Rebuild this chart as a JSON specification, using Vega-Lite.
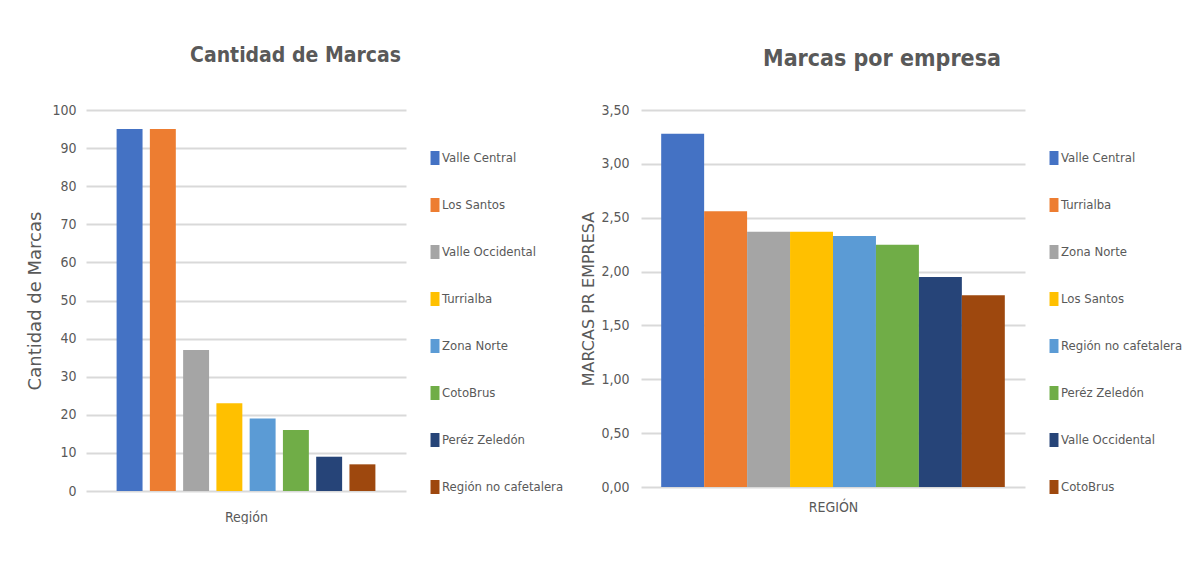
{
  "$schema": "https://vega.github.io/schema/vega-lite/v6.json",
  "background": "white",
  "padding": {"left": 26, "top": 45, "right": 0, "bottom": 0},
  "datasets": {
    "marcas": [
      {"region": "Valle Central", "marcas": 95},
      {"region": "Los Santos", "marcas": 95},
      {"region": "Valle Occidental", "marcas": 37},
      {"region": "Turrialba", "marcas": 23},
      {"region": "Zona Norte", "marcas": 19},
      {"region": "CotoBrus", "marcas": 16},
      {"region": "Peréz Zeledón", "marcas": 9},
      {"region": "Región no cafetalera", "marcas": 7}
    ],
    "empresa": [
      {"region": "Valle Central", "ratio": 3.28},
      {"region": "Turrialba", "ratio": 2.56},
      {"region": "Zona Norte", "ratio": 2.37},
      {"region": "Los Santos", "ratio": 2.37},
      {"region": "Región no cafetalera", "ratio": 2.33},
      {"region": "Peréz Zeledón", "ratio": 2.25},
      {"region": "Valle Occidental", "ratio": 1.95},
      {"region": "CotoBrus", "ratio": 1.78}
    ]
  },
  "spacing": 16,
  "hconcat": [
    {
      "data": {"name": "marcas"},
      "width": 320,
      "height": 381,
      "title": {"text": "Cantidad de Marcas", "frame": "bounds", "anchor": "middle", "fontSize": 21, "font": "DejaVu Sans Condensed, sans-serif", "fontWeight": "bold", "color": "#595959", "offset": 37},
      "mark": {"type": "bar"},
      "encoding": {
        "x": {
          "field": "region", "type": "nominal",
          "scale": {"domain": ["Valle Central", "Los Santos", "Valle Occidental", "Turrialba", "Zona Norte", "CotoBrus", "Peréz Zeledón", "Región no cafetalera"], "paddingInner": 0.22, "paddingOuter": 0.92},
          "axis": {"title": "Región", "labels": false, "ticks": false, "domain": false, "titlePadding": 19, "titleFont": "DejaVu Sans Condensed, sans-serif", "titleFontSize": 14, "titleFontWeight": "normal", "titleColor": "#595959"}
        },
        "y": {
          "field": "marcas", "type": "quantitative",
          "scale": {"domain": [0, 100], "nice": false},
          "axis": {"values": [0, 10, 20, 30, 40, 50, 60, 70, 80, 90, 100], "title": "Cantidad de Marcas", "titleFont": "DejaVu Sans", "titleFontSize": 18, "titleFontWeight": "normal", "titleColor": "#595959", "titlePadding": 7, "labelFont": "DejaVu Sans Condensed, sans-serif", "labelFontSize": 14, "labelColor": "#595959", "labelPadding": 10, "ticks": false, "domain": false, "gridColor": "#d9d9d9", "gridWidth": 2}
        },
        "color": {
          "field": "region", "type": "nominal",
          "scale": {"domain": ["Valle Central", "Los Santos", "Valle Occidental", "Turrialba", "Zona Norte", "CotoBrus", "Peréz Zeledón", "Región no cafetalera"], "range": ["#4472C4", "#ED7D31", "#A5A5A5", "#FFC000", "#5B9BD5", "#70AD47", "#264478", "#9E480E"]},
          "legend": {"title": null, "orient": "none", "legendX": 342, "legendY": 41, "padding": 0, "symbolType": "M-0.64,-1H0.64V1H-0.64Z", "symbolSize": 196, "symbolStrokeWidth": 0, "labelFont": "DejaVu Sans Condensed, sans-serif", "labelFontSize": 13, "labelColor": "#595959", "labelOffset": 0, "rowPadding": 33}
        }
      }
    },
    {
      "data": {"name": "empresa"},
      "width": 384,
      "height": 377,
      "title": {"text": "Marcas por empresa", "frame": "bounds", "anchor": "middle", "fontSize": 23, "font": "DejaVu Sans Condensed, sans-serif", "fontWeight": "bold", "color": "#595959", "offset": 32},
      "mark": {"type": "bar"},
      "encoding": {
        "x": {
          "field": "region", "type": "nominal",
          "scale": {"domain": ["Valle Central", "Turrialba", "Zona Norte", "Los Santos", "Región no cafetalera", "Peréz Zeledón", "Valle Occidental", "CotoBrus"], "paddingInner": 0, "paddingOuter": 0.47},
          "axis": {"title": "REGIÓN", "labels": false, "ticks": false, "domain": false, "titlePadding": 13, "titleFont": "DejaVu Sans Condensed, sans-serif", "titleFontSize": 14, "titleFontWeight": "normal", "titleColor": "#595959"}
        },
        "y": {
          "field": "ratio", "type": "quantitative",
          "scale": {"domain": [0, 3.5], "nice": false},
          "axis": {"values": [0, 0.5, 1, 1.5, 2, 2.5, 3, 3.5], "labelExpr": "replace(format(datum.value, '.2f'), '.', ',')", "title": "MARCAS PR EMPRESA", "titleFont": "DejaVu Sans", "titleFontSize": 16, "titleFontWeight": "normal", "titleColor": "#595959", "titlePadding": 4, "labelFont": "DejaVu Sans Condensed, sans-serif", "labelFontSize": 14, "labelColor": "#595959", "labelPadding": 12, "ticks": false, "domain": false, "gridColor": "#d9d9d9", "gridWidth": 2}
        },
        "color": {
          "field": "region", "type": "nominal",
          "scale": {"domain": ["Valle Central", "Turrialba", "Zona Norte", "Los Santos", "Región no cafetalera", "Peréz Zeledón", "Valle Occidental", "CotoBrus"], "range": ["#4472C4", "#ED7D31", "#A5A5A5", "#FFC000", "#5B9BD5", "#70AD47", "#264478", "#9E480E"]},
          "legend": {"title": null, "orient": "none", "legendX": 406, "legendY": 41, "padding": 0, "symbolType": "M-0.64,-1H0.64V1H-0.64Z", "symbolSize": 196, "symbolStrokeWidth": 0, "labelFont": "DejaVu Sans Condensed, sans-serif", "labelFontSize": 13, "labelColor": "#595959", "labelOffset": 0, "rowPadding": 33}
        }
      }
    }
  ],
  "resolve": {"scale": {"color": "independent", "x": "independent", "y": "independent"}, "legend": {"color": "independent"}},
  "config": {"view": {"stroke": null}}
}
